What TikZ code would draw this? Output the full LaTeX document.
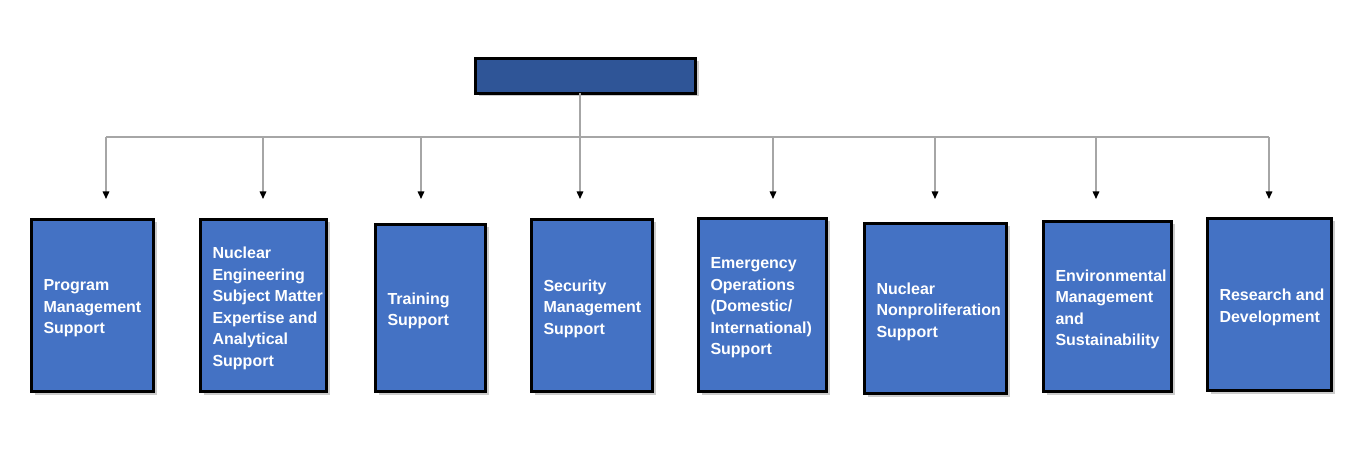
\documentclass[tikz,border=0pt]{standalone}
\usepackage{fontspec}
\setmainfont{Liberation Sans}
\usetikzlibrary{arrows.meta, shadows}

\definecolor{unitblue}{HTML}{4472C4}
\definecolor{headblue}{HTML}{2F5597}
\definecolor{linkgray}{HTML}{A6A6A6}

\tikzset{
  unit/.style={rectangle, draw=black, line width=3pt, fill=unitblue,
    drop shadow={shadow xshift=3pt, shadow yshift=-3pt, opacity=0.4, fill=gray}},
  unit-text/.style={anchor=west, align=left, text=white, yshift=-3pt,
    font=\bfseries\fontsize{16}{21.5}\selectfont},
  link/.style={draw=linkgray, line width=1.5pt},
  feed/.style={link, -{Triangle[width=6.5pt, length=7.5pt, color=black]}}
}

\begin{document}
\begin{tikzpicture}[x=1pt, y=-1pt, inner sep=0, outer sep=0]
  \useasboundingbox (0,0) rectangle (1350,454);

  % top box
  \node[unit, fill=headblue, minimum width=220pt, minimum height=35pt] (head) at (585.5,76) {};

  % units
  \node[unit, minimum width=122pt, minimum height=172pt] (prog) at (92.5,305.5) {};
  \node[unit-text] (prog-text) at ([xshift=12pt]prog.west) {Program\\Management\\Support};

  \node[unit, minimum width=126pt, minimum height=172pt] (nuc) at (263.5,305.5) {};
  \node[unit-text] (nuc-text) at ([xshift=12pt]nuc.west) {Nuclear\\Engineering\\Subject Matter\\Expertise and\\Analytical\\Support};

  \node[unit, minimum width=110pt, minimum height=167pt] (train) at (430.5,308) {};
  \node[unit-text] (train-text) at ([xshift=12pt]train.west) {Training\\Support};

  \node[unit, minimum width=121pt, minimum height=172pt] (sec) at (592,305.5) {};
  \node[unit-text] (sec-text) at ([xshift=12pt]sec.west) {Security\\Management\\Support};

  \node[unit, minimum width=128pt, minimum height=173pt] (emerg) at (762.5,305) {};
  \node[unit-text] (emerg-text) at ([xshift=12pt]emerg.west) {Emergency\\Operations\\(Domestic/\\International)\\Support};

  \node[unit, minimum width=142pt, minimum height=170pt] (nonpro) at (935.5,308.5) {};
  \node[unit-text] (nonpro-text) at ([xshift=12pt]nonpro.west) {Nuclear\\Nonproliferation\\Support};

  \node[unit, minimum width=128pt, minimum height=170pt] (env) at (1107.5,306.5) {};
  \node[unit-text] (env-text) at ([xshift=12pt]env.west) {Environmental\\Management\\and\\Sustainability};

  \node[unit, minimum width=124pt, minimum height=172pt] (rnd) at (1269.5,304.5) {};
  \node[unit-text] (rnd-text) at ([xshift=12pt]rnd.west) {Research and\\Development};

  % bus and arrow ends
  \coordinate (bus1) at (106,137);
  \coordinate (bus2) at (263,137);
  \coordinate (bus3) at (421,137);
  \coordinate (bus4) at (580,137);
  \coordinate (bus5) at (773,137);
  \coordinate (bus6) at (935,137);
  \coordinate (bus7) at (1096,137);
  \coordinate (bus8) at (1269,137);

  \coordinate (tip1) at (106,199);
  \coordinate (tip2) at (263,199);
  \coordinate (tip3) at (421,199);
  \coordinate (tip4) at (580,199);
  \coordinate (tip5) at (773,199);
  \coordinate (tip6) at (935,199);
  \coordinate (tip7) at (1096,199);
  \coordinate (tip8) at (1269,199);

  \draw[link] (bus1) -- (bus8);
  \draw[feed] (head.south -| tip4) -- (tip4);
  \draw[feed] (bus1) -- (tip1);
  \draw[feed] (bus2) -- (tip2);
  \draw[feed] (bus3) -- (tip3);
  \draw[feed] (bus5) -- (tip5);
  \draw[feed] (bus6) -- (tip6);
  \draw[feed] (bus7) -- (tip7);
  \draw[feed] (bus8) -- (tip8);
\end{tikzpicture}
\end{document}
